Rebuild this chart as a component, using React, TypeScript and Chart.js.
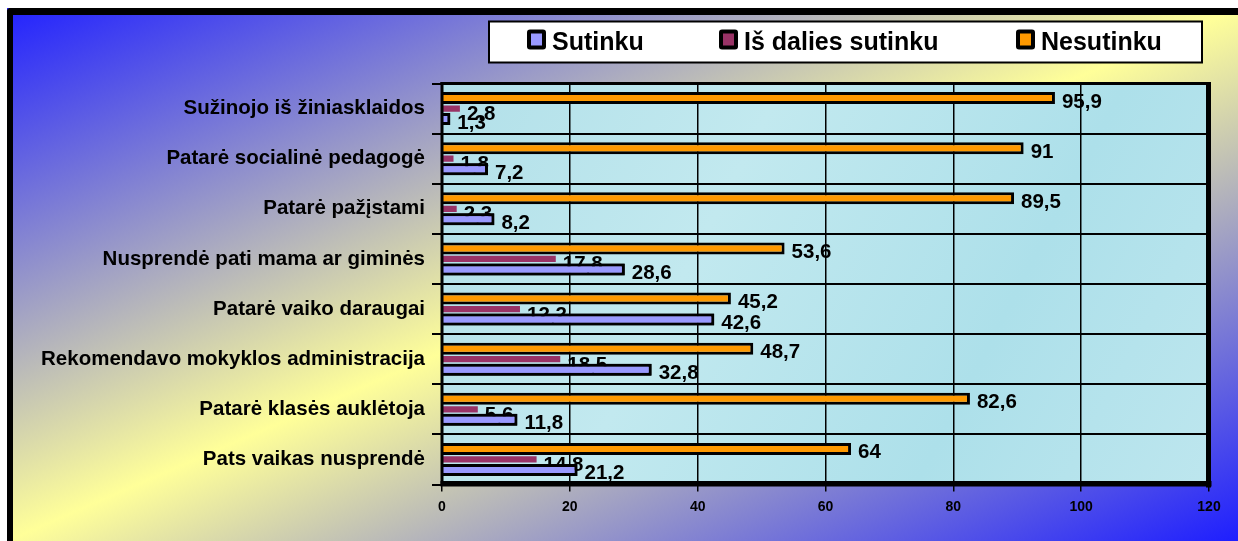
import React, { useEffect, useRef } from "react";
import { Chart, registerables } from "chart.js";

Chart.register(...registerables);

// ---- data ----
const categories = [
  "Sužinojo iš žiniasklaidos",
  "Patarė socialinė pedagogė",
  "Patarė pažįstami",
  "Nusprendė pati mama ar giminės",
  "Patarė vaiko daraugai",
  "Rekomendavo mokyklos administracija",
  "Patarė klasės auklėtoja",
  "Pats vaikas nusprendė",
];
const seriesNames = ["Sutinku", "Iš dalies sutinku", "Nesutinku"];
const sutinku = [1.3, 7.2, 8.2, 28.6, 42.6, 32.8, 11.8, 21.2];
const isDaliesSutinku = [2.8, 1.8, 2.3, 17.8, 12.2, 18.5, 5.6, 14.8];
const nesutinku = [95.9, 91, 89.5, 53.6, 45.2, 48.7, 82.6, 64];
const xMin = 0;
const xMax = 120;
const xStep = 20;

const seriesColors = ["#9999FF", "#993366", "#FF9900"];
const FONT = '"Liberation Sans", Arial, sans-serif';

const fmt = (v: number) => String(v).replace(".", ",");

const W = 1238;
const H = 541;

const backgroundPlugin = {
  id: "bgPlugin",
  beforeDraw(chart: any) {
    const ctx = chart.ctx as CanvasRenderingContext2D;
    ctx.save();
    ctx.fillStyle = "#ffffff";
    ctx.fillRect(0, 0, W, H);
    // frame gradient (like CSS "to bottom right")
    const fx = 7, fy = 8, fw = W - fx, fh = H - fy;
    const cx = fx + fw / 2, cy = fy + fh / 2;
    const L2 = fw * fw + fh * fh;
    const k = (fw * fh) / L2;
    const ox = k * fh, oy = k * fw;
    const g = ctx.createLinearGradient(cx - ox, cy - oy, cx + ox, cy + oy);
    g.addColorStop(0, "#2222ff");
    g.addColorStop(0.5, "#ffff99");
    g.addColorStop(1, "#1e1eff");
    ctx.fillStyle = g;
    ctx.fillRect(fx, fy, fw, fh);
    // black frame top/left
    ctx.fillStyle = "#000000";
    ctx.beginPath();
    ctx.roundRect(fx, fy, fw + 20, 7, [4, 0, 0, 0]);
    ctx.fill();
    ctx.beginPath();
    ctx.roundRect(fx, fy, 6, fh + 20, [4, 0, 0, 0]);
    ctx.fill();
    // plot area background (water-like)
    const a = chart.chartArea;
    const pg = ctx.createLinearGradient(a.left, a.top, a.right, a.bottom);
    pg.addColorStop(0, "#b2e0e9");
    pg.addColorStop(0.35, "#c2e9ef");
    pg.addColorStop(0.7, "#ade0ea");
    pg.addColorStop(1, "#bde6ee");
    ctx.fillStyle = pg;
    ctx.fillRect(a.left, a.top, a.right - a.left, a.bottom - a.top);
    ctx.restore();
  },
};

const overlayPlugin = {
  id: "overlayPlugin",
  afterDatasetsDraw(chart: any) {
    const ctx = chart.ctx as CanvasRenderingContext2D;
    const a = chart.chartArea;
    ctx.save();
    ctx.font = `bold 20.5px ${FONT}`;
    ctx.fillStyle = "#000000";
    ctx.textAlign = "left";
    ctx.textBaseline = "alphabetic";
    const drawLabels = (dsIndex: number, dy: number) => {
      const meta = chart.getDatasetMeta(dsIndex);
      const data = chart.data.datasets[dsIndex].data as number[];
      meta.data.forEach((el: any, i: number) => {
        ctx.fillText(fmt(data[i]), el.x + 7, el.y + dy);
      });
    };
    // middle series labels, then the lower bars on top of them
    drawLabels(1, 11.5);
    chart.getDatasetMeta(2).data.forEach((el: any) => el.draw(ctx));
    // plot frame
    ctx.fillStyle = "#000000";
    const w = a.right - a.left;
    const h = a.bottom - a.top;
    ctx.fillRect(a.left - 1.5, a.top - 1.5, w + 3, 3);
    ctx.fillRect(a.left - 1.5, a.top - 1.5, 3, h + 3);
    ctx.fillRect(a.right - 3, a.top - 1.5, 5, h + 4.5);
    ctx.fillRect(a.left - 1.5, a.bottom - 3.5, w + 4, 5.5);
    ctx.font = `bold 20.5px ${FONT}`;
    drawLabels(0, 9.5);
    drawLabels(2, 9.5);
    ctx.restore();
  },
  afterDraw(chart: any) {
    const ctx = chart.ctx as CanvasRenderingContext2D;
    ctx.save();
    // legend box
    const bx = 489, by = 21.5, bw = 713, bh = 41;
    ctx.fillStyle = "#ffffff";
    ctx.fillRect(bx, by, bw, bh);
    ctx.strokeStyle = "#000000";
    ctx.lineWidth = 2;
    ctx.strokeRect(bx, by, bw, bh);
    const items = [
      { marker: 527, text: 552, name: seriesNames[0], color: seriesColors[0] },
      { marker: 719, text: 744, name: seriesNames[1], color: seriesColors[1] },
      { marker: 1016, text: 1041, name: seriesNames[2], color: seriesColors[2] },
    ];
    ctx.font = `bold 25px ${FONT}`;
    ctx.textBaseline = "alphabetic";
    ctx.textAlign = "left";
    items.forEach((it) => {
      ctx.fillStyle = "#000000";
      ctx.beginPath();
      ctx.roundRect(it.marker, 29.5, 19, 20, 3);
      ctx.fill();
      ctx.fillStyle = it.color;
      ctx.fillRect(it.marker + 4, 33.5, 11, 12);
      ctx.fillStyle = "#000000";
      ctx.fillText(it.name, it.text, 50);
    });
    ctx.restore();
  },
};

export default function App() {
  const ref = useRef<HTMLCanvasElement>(null);
  useEffect(() => {
    const canvas = ref.current;
    if (!canvas) return;
    const chart = new Chart(canvas, {
      type: "bar",
      data: {
        labels: categories,
        datasets: [
          {
            label: seriesNames[2],
            data: nesutinku,
            backgroundColor: seriesColors[2],
            borderColor: "#000000",
            borderWidth: 3,
            borderSkipped: "start",
            barPercentage: 1.14,
            categoryPercentage: 0.627,
          },
          {
            label: seriesNames[1],
            data: isDaliesSutinku,
            backgroundColor: seriesColors[1],
            borderWidth: 0,
            barPercentage: 0.6,
            categoryPercentage: 0.627,
          },
          {
            label: seriesNames[0],
            data: sutinku,
            backgroundColor: seriesColors[0],
            borderColor: "#000000",
            borderWidth: 3,
            borderSkipped: "start",
            barPercentage: 1.14,
            categoryPercentage: 0.627,
          },
        ],
      },
      options: {
        indexAxis: "y",
        responsive: false,
        maintainAspectRatio: false,
        animation: false,
        layout: { padding: { top: 83.5, right: 29, left: 0, bottom: 0 } },
        plugins: {
          legend: { display: false },
          tooltip: { enabled: false },
        },
        scales: {
          x: {
            type: "linear",
            min: xMin,
            max: xMax,
            ticks: {
              stepSize: xStep,
              color: "#000000",
              font: { family: FONT, size: 14, weight: "bold" },
              padding: 7,
            },
            grid: {
              color: "#000000",
              lineWidth: 1.5,
              tickLength: 7,
              drawTicks: true,
            },
            border: { display: false },
            afterFit: (s: any) => {
              s.height = 56.5;
            },
          },
          y: {
            type: "category",
            ticks: {
              color: "#000000",
              font: { family: FONT, size: 20.5, weight: "bold" },
              padding: 7,
            },
            grid: {
              offset: true,
              color: "#000000",
              lineWidth: 2,
              tickLength: 10,
              drawTicks: true,
            },
            border: { display: false },
            afterFit: (s: any) => {
              s.width = 442;
            },
          },
        },
      } as any,
      plugins: [backgroundPlugin, overlayPlugin],
    });
    return () => chart.destroy();
  }, []);
  return (
    <div style={{ position: "fixed", left: 0, top: 0, width: W, height: H }}>
      <canvas ref={ref} width={W} height={H} style={{ display: "block", width: W, height: H }} />
    </div>
  );
}
